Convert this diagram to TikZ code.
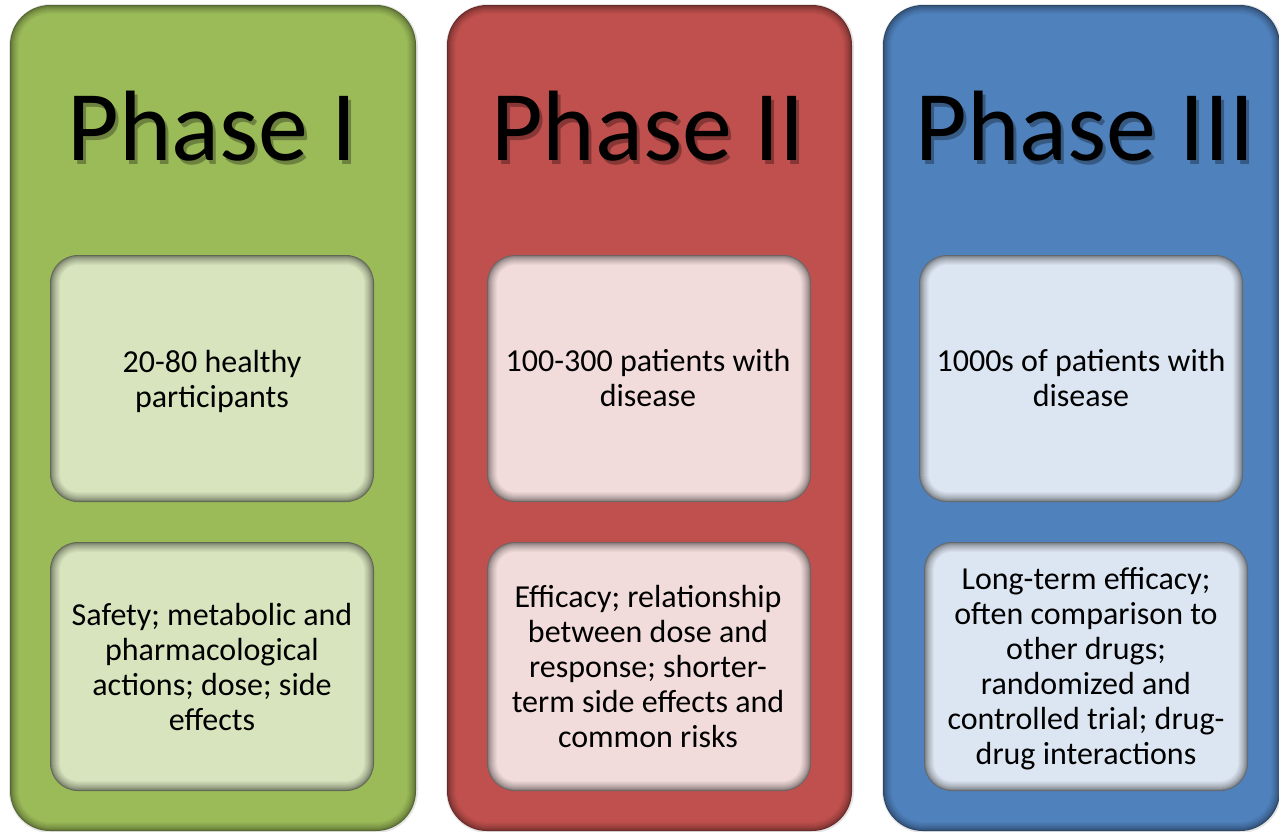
\documentclass[tikz,border=0pt]{standalone}
\usepackage{fontspec}
\setmainfont{Carlito}
\definecolor{phgreen}{HTML}{9BBB59}
\definecolor{phred}{HTML}{C0504D}
\definecolor{phblue}{HTML}{4F81BD}
\definecolor{tintgreen}{HTML}{D7E4BD}
\definecolor{tintred}{HTML}{F2DCDB}
\definecolor{tintblue}{HTML}{DCE6F2}

% rounded panel whose rim fades from a dark edge colour into the face colour
% #1,#2 top-left  #3,#4 bottom-right  #5 corner radius  #6 edge colour  #7 face colour  #8 rim width
\newcommand{\rimpanel}[8]{%
  \colorlet{rimedge}{#6}%
  \colorlet{rimface}{#7}%
  \foreach \k in {0,...,#8} {%
    \pgfmathtruncatemacro{\mixval}{100*(\k/#8)^0.6}%
    \pgfmathsetmacro{\rad}{max(#5-\k,1)}%
    \fill[rimface!\mixval!rimedge, rounded corners=\rad pt] (#1+\k,#2+\k) rectangle (#3-\k,#4-\k);
  }%
}

\tikzset{
  phasetitle/.style={font=\fontsize{100}{110}\selectfont, text=black, inner sep=0pt, anchor=base},
  titleshade/.style={phasetitle, text=black, opacity=0.3},
  bodytext/.style={font=\fontsize{32}{35}\selectfont, align=center, text=black, inner sep=0pt},
}

\begin{document}
\begin{tikzpicture}[x=1pt,y=-1pt]
\useasboundingbox (0,0) rectangle (1279,831);
\fill[white] (0,0) rectangle (1279,831);

% outer column panels with a faint drop shadow
\foreach \xa/\xb/\c in {10/416/phgreen, 447/852/phred, 883/1280/phblue} {
  \fill[black, opacity=0.10, rounded corners=42pt] (\xa-1,4) rectangle (\xb+2,833);
  \rimpanel{\xa}{5}{\xb}{831}{40}{\c!55!black}{\c}{9}
}

% inner panels: upper and lower row
\rimpanel{50}{255}{374}{502}{28}{tintgreen!45!black}{tintgreen}{10}
\rimpanel{50}{542}{374}{791}{28}{tintgreen!45!black}{tintgreen}{10}
\rimpanel{487}{255}{811}{502}{28}{tintred!45!black}{tintred}{10}
\rimpanel{487}{542}{811}{791}{28}{tintred!45!black}{tintred}{10}
\rimpanel{919}{255}{1243}{502}{28}{tintblue!45!black}{tintblue}{10}
\rimpanel{924}{542}{1248}{791}{28}{tintblue!45!black}{tintblue}{10}

% column titles with a soft shadow
\node[titleshade] (s1) at (215,164) {Phase I};
\node[titleshade] (s2) at (651,164) {Phase II};
\node[titleshade] (s3) at (1088,164) {Phase III};
\node[phasetitle] (t1) at (212,160) {Phase I};
\node[phasetitle] (t2) at (648,160) {Phase II};
\node[phasetitle] (t3) at (1085,160) {Phase III};

% panel texts
\node[bodytext] (p1) at (212,381.5) {20-80 healthy\\participants};
\node[bodytext] (p2) at (648,377.5) {100-300 patients with\\disease};
\node[bodytext] (p3) at (1081,378) {1000s of patients with\\disease};

\node[bodytext] (g1) at (212,666.5) {Safety; metabolic and\\pharmacological\\actions; dose; side\\effects};
\node[bodytext] (g2) at (648,666) {Efficacy; relationship\\between dose and\\response; shorter-\\term side effects and\\common risks};
\node[bodytext] (g3) at (1086,668.5) {Long-term efficacy;\\often comparison to\\other drugs;\\randomized and\\controlled trial; drug-\\drug interactions};
\end{tikzpicture}
\end{document}
